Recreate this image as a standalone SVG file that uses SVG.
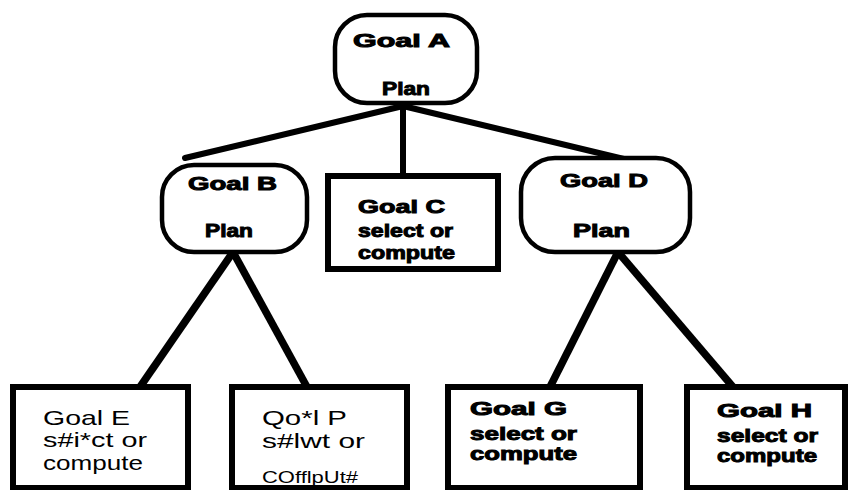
<svg xmlns="http://www.w3.org/2000/svg" width="849" height="490" viewBox="0 0 849 490">
<style>
.plan{fill:#fff;stroke:#000;stroke-width:4.5}
.leaf{fill:#fff;stroke:#000;stroke-width:6}
.c1{stroke:#000;stroke-width:6;stroke-linecap:round;fill:none}
.c2{stroke:#000;stroke-width:7.5;stroke-linecap:butt;fill:none}
.b{font-family:"Liberation Sans",Arial,sans-serif;font-weight:bold;font-size:19px;fill:#000;stroke:#000;stroke-width:1}
.r{font-family:"Liberation Sans",Arial,sans-serif;font-size:21px;fill:#000}
.s{font-family:"Liberation Sans",Arial,sans-serif;font-size:16px;fill:#000}
</style>
<rect width="849" height="490" fill="#fff"/>
<g id="connectors">
<line class="c1" x1="403" y1="106" x2="185" y2="158"/>
<line class="c1" x1="403" y1="106" x2="403" y2="176"/>
<line class="c1" x1="403" y1="106" x2="628" y2="160"/>
<line class="c2" x1="233" y1="252" x2="140" y2="387"/>
<line class="c2" x1="233" y1="252" x2="307" y2="387"/>
<line class="c2" x1="618" y1="252" x2="550" y2="387"/>
<line class="c2" x1="618" y1="252" x2="733" y2="387"/>
</g>
<g id="goalA">
<rect class="plan" x="335" y="15" width="142" height="88" rx="32"/>
<text class="b" x="353" y="47" textLength="97" lengthAdjust="spacingAndGlyphs">Goal  A</text>
<text class="b" x="382" y="95" textLength="48" lengthAdjust="spacingAndGlyphs">Plan</text>
</g>
<g id="goalB">
<rect class="plan" x="162" y="165" width="145" height="87" rx="32"/>
<text class="b" x="188" y="190" textLength="89" lengthAdjust="spacingAndGlyphs">Goal  B</text>
<text class="b" x="205" y="237" textLength="48" lengthAdjust="spacingAndGlyphs">Plan</text>
</g>
<g id="goalC">
<rect class="leaf" x="328" y="176" width="170" height="93"/>
<text class="b" x="358" y="213" textLength="87" lengthAdjust="spacingAndGlyphs">Goal  C</text>
<text class="b" x="358" y="237" textLength="95" lengthAdjust="spacingAndGlyphs">select  or</text>
<text class="b" x="358" y="259" textLength="97" lengthAdjust="spacingAndGlyphs">compute</text>
</g>
<g id="goalD">
<rect class="plan" x="521" y="158" width="169" height="94" rx="34"/>
<text class="b" x="560" y="187" textLength="88" lengthAdjust="spacingAndGlyphs">Goal  D</text>
<text class="b" x="573" y="237" textLength="57" lengthAdjust="spacingAndGlyphs">Plan</text>
</g>
<g id="goalE">
<rect class="leaf" x="13" y="387" width="175" height="101"/>
<text class="r" x="43" y="425" textLength="87" lengthAdjust="spacingAndGlyphs">Goal  E</text>
<text class="r" x="43" y="447" textLength="104" lengthAdjust="spacingAndGlyphs">s#i*ct  or</text>
<text class="r" x="43" y="470" textLength="100" lengthAdjust="spacingAndGlyphs">compute</text>
</g>
<g id="goalF">
<rect class="leaf" x="232" y="387" width="175" height="101"/>
<text class="r" x="262" y="425" textLength="85" lengthAdjust="spacingAndGlyphs">Qo*l  P</text>
<text class="r" x="262" y="448" textLength="103" lengthAdjust="spacingAndGlyphs">s#lwt  or</text>
<text class="s" x="262" y="483" textLength="96" lengthAdjust="spacingAndGlyphs">COfflpUt#</text>
</g>
<g id="goalG">
<rect class="leaf" x="448" y="387" width="192" height="101"/>
<text class="b" x="470" y="415" textLength="97" lengthAdjust="spacingAndGlyphs">Goal  G</text>
<text class="b" x="470" y="440" textLength="107" lengthAdjust="spacingAndGlyphs">select  or</text>
<text class="b" x="470" y="460" textLength="107" lengthAdjust="spacingAndGlyphs">compute</text>
</g>
<g id="goalH">
<rect class="leaf" x="687" y="387" width="158" height="101"/>
<text class="b" x="717" y="417" textLength="95" lengthAdjust="spacingAndGlyphs">Goal  H</text>
<text class="b" x="717" y="442" textLength="101" lengthAdjust="spacingAndGlyphs">select  or</text>
<text class="b" x="717" y="462" textLength="100" lengthAdjust="spacingAndGlyphs">compute</text>
</g>
</svg>
